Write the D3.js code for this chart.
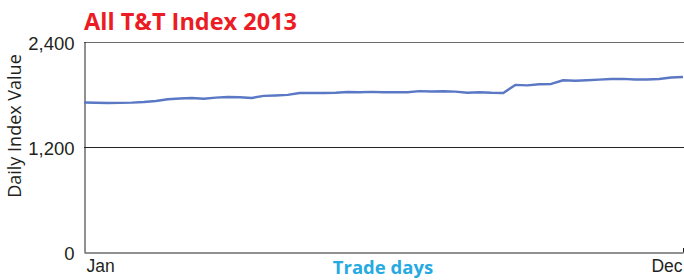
<!DOCTYPE html>
<html><head><meta charset="utf-8">
<script src="https://cdn.jsdelivr.net/npm/d3@7"></script>
<style>
html,body{margin:0;padding:0;background:#fff;}
svg{display:block;font-family:"Open Sans",sans-serif;}
</style></head>
<body><svg id="c" width="684" height="280"></svg>
<script>
const title = "All T&T Index 2013";
const yTitle = "Daily Index Value";
const xTitle = "Trade days";
const xLabels = ["Jan", "Dec"];
const yTicks = [0, 1200, 2400];
// roughly weekly samples of the daily index value through 2013
const indexValues = [1705,1702,1699,1700,1703,1710,1722,1742,1750,1756,1748,1760,1768,1765,1756,1780,1785,1792,1813,1813,1813,1815,1824,1822,1826,1821,1821,1822,1834,1830,1832,1828,1816,1822,1815,1813,1905,1900,1912,1916,1958,1952,1958,1965,1972,1974,1966,1966,1972,1990,1996];

const svg = d3.select("#c");
const m = {l:84, r:683, t:41.5, b:252};
const x = d3.scaleLinear().domain([0, indexValues.length-1]).range([m.l, m.r]);
const y = d3.scaleLinear().domain([0, 2400]).range([m.b, m.t]);

// gridlines
svg.append("g").selectAll("line").data(yTicks.filter(d=>d>0)).join("line")
  .attr("x1", m.l).attr("x2", m.r+1)
  .attr("y1", d=>Math.round(y(d))+0.5).attr("y2", d=>Math.round(y(d))+0.5)
  .attr("stroke", d=> d===2400 ? "#6b6b6b" : "#222").attr("stroke-width", 1);

// y axis
const ya = svg.append("g").attr("transform", `translate(${m.l+0.5},0)`)
  .call(d3.axisLeft(y).tickValues(yTicks).tickSize(0).tickPadding(10).tickFormat(d3.format(",")));
ya.select(".domain").attr("stroke", "#222");
ya.selectAll("text").attr("font-size", 18.5).attr("fill", "#231f20").attr("dy", "0.42em");

// x axis
const xa = svg.append("g").attr("transform", `translate(0,${m.b+0.5})`)
  .call(d3.axisBottom(x).tickValues([0, indexValues.length-1]).tickSize(0).tickPadding(7)
    .tickFormat((d,i)=>xLabels[i]));
xa.select(".domain").attr("stroke", "#222");
xa.selectAll("text").attr("font-size", 17.5).attr("fill", "#231f20")
  .attr("text-anchor", (d,i)=> i===0 ? "start" : "end")
  .attr("dx", (d,i)=> i===0 ? 2 : -1);
svg.append("line").attr("x1", m.r+0.5).attr("x2", m.r+0.5).attr("y1", m.b-4).attr("y2", m.b+0.5).attr("stroke", "#222");

// line
svg.append("path").datum(indexValues)
  .attr("fill", "none").attr("stroke", "#5a78c4").attr("stroke-width", 2.4)
  .attr("stroke-linejoin", "round")
  .attr("d", d3.line().x((d,i)=>x(i)).y(d=>y(d)));

// titles
svg.append("text").attr("x", 84).attr("y", 30).text(title)
  .attr("font-size", 23.5).attr("font-weight", "bold").attr("fill", "#ec1c24");
svg.append("text").attr("x", 383).attr("y", 274).attr("text-anchor", "middle").text(xTitle)
  .attr("font-size", 18.5).attr("font-weight", "bold").attr("fill", "#27aae1");
svg.append("text").attr("transform", "translate(21,126) rotate(-90)").attr("text-anchor", "middle")
  .text(yTitle).attr("font-size", 18).attr("fill", "#231f20");
</script></body></html>
